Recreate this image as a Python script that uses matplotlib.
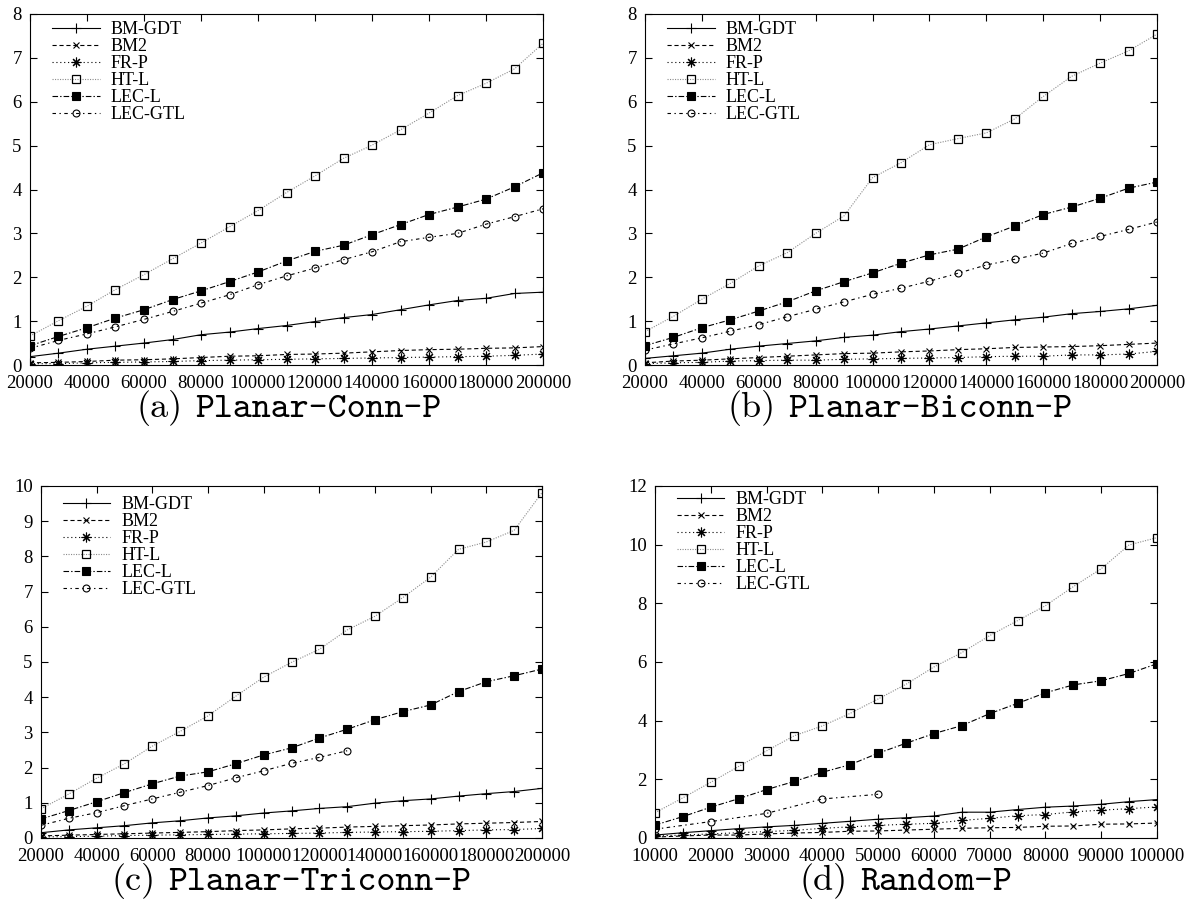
import os
import matplotlib
matplotlib.use("Agg")
import matplotlib.pyplot as plt
from matplotlib.font_manager import FontProperties
from matplotlib.offsetbox import TextArea, HPacker, AnnotationBbox

plt.rcParams['font.family'] = ['Liberation Serif', 'DejaVu Serif']
plt.rcParams['lines.scale_dashes'] = False

# ---- data (running time, seconds) ----
x_planar = [20000, 30000, 40000, 50000, 60000, 70000, 80000, 90000, 100000, 110000,
            120000, 130000, 140000, 150000, 160000, 170000, 180000, 190000, 200000]
x_random = [10000, 15000, 20000, 25000, 30000, 35000, 40000, 45000, 50000, 55000,
            60000, 65000, 70000, 75000, 80000, 85000, 90000, 95000, 100000]
x_gtl_c = [20000, 30000, 40000, 50000, 60000, 70000, 80000, 90000, 100000, 110000,
           120000, 130000]
x_gtl_d = [10000, 20000, 30000, 40000, 50000]

methods = ['BM-GDT', 'BM2', 'FR-P', 'HT-L', 'LEC-L', 'LEC-GTL']

conn_bmgdt = [0.19, 0.27, 0.36, 0.43, 0.50, 0.58, 0.69, 0.75, 0.83, 0.90, 0.99, 1.08, 1.15, 1.26, 1.37, 1.47, 1.52, 1.63, 1.66]
conn_bm2 = [0.05, 0.06, 0.08, 0.11, 0.12, 0.14, 0.17, 0.20, 0.21, 0.24, 0.25, 0.27, 0.30, 0.33, 0.35, 0.36, 0.38, 0.39, 0.42]
conn_frp = [0.03, 0.03, 0.05, 0.06, 0.07, 0.08, 0.10, 0.11, 0.12, 0.13, 0.14, 0.15, 0.16, 0.17, 0.18, 0.19, 0.20, 0.22, 0.25]
conn_htl = [0.66, 1.01, 1.34, 1.72, 2.06, 2.42, 2.78, 3.15, 3.52, 3.93, 4.31, 4.71, 5.01, 5.36, 5.74, 6.14, 6.42, 6.75, 7.33]
conn_lecl = [0.44, 0.65, 0.85, 1.07, 1.26, 1.49, 1.69, 1.90, 2.12, 2.37, 2.59, 2.73, 2.97, 3.20, 3.43, 3.60, 3.78, 4.06, 4.38]
conn_gtl = [0.38, 0.56, 0.71, 0.87, 1.04, 1.22, 1.41, 1.60, 1.83, 2.03, 2.21, 2.40, 2.58, 2.81, 2.91, 3.00, 3.21, 3.38, 3.56]

bic_bmgdt = [0.15, 0.21, 0.27, 0.36, 0.43, 0.49, 0.55, 0.63, 0.68, 0.76, 0.82, 0.89, 0.96, 1.03, 1.09, 1.17, 1.22, 1.28, 1.36]
bic_bm2 = [0.05, 0.09, 0.11, 0.14, 0.17, 0.20, 0.23, 0.26, 0.27, 0.30, 0.32, 0.35, 0.37, 0.40, 0.41, 0.42, 0.44, 0.47, 0.50]
bic_frp = [0.03, 0.05, 0.06, 0.09, 0.10, 0.11, 0.11, 0.13, 0.14, 0.15, 0.16, 0.17, 0.19, 0.20, 0.20, 0.23, 0.23, 0.25, 0.31]
bic_htl = [0.76, 1.11, 1.50, 1.86, 2.26, 2.56, 3.00, 3.40, 4.27, 4.61, 5.02, 5.16, 5.29, 5.61, 6.12, 6.58, 6.88, 7.16, 7.54]
bic_lecl = [0.44, 0.63, 0.85, 1.03, 1.23, 1.44, 1.69, 1.90, 2.10, 2.32, 2.51, 2.64, 2.92, 3.17, 3.43, 3.60, 3.80, 4.03, 4.17]
bic_gtl = [0.34, 0.48, 0.62, 0.77, 0.92, 1.10, 1.27, 1.44, 1.61, 1.75, 1.91, 2.09, 2.28, 2.41, 2.55, 2.77, 2.93, 3.09, 3.26]

tri_bmgdt = [0.15, 0.23, 0.29, 0.35, 0.43, 0.49, 0.57, 0.63, 0.71, 0.77, 0.84, 0.89, 0.99, 1.06, 1.11, 1.19, 1.26, 1.32, 1.41]
tri_bm2 = [0.06, 0.08, 0.10, 0.12, 0.14, 0.16, 0.18, 0.21, 0.23, 0.26, 0.28, 0.31, 0.33, 0.35, 0.37, 0.40, 0.42, 0.44, 0.47]
tri_frp = [0.03, 0.04, 0.05, 0.07, 0.08, 0.09, 0.10, 0.11, 0.12, 0.13, 0.14, 0.16, 0.17, 0.18, 0.19, 0.21, 0.23, 0.24, 0.27]
tri_htl = [0.83, 1.25, 1.70, 2.11, 2.61, 3.03, 3.47, 4.03, 4.57, 4.99, 5.36, 5.91, 6.30, 6.83, 7.41, 8.20, 8.41, 8.74, 9.81]
tri_lecl = [0.54, 0.78, 1.03, 1.29, 1.54, 1.76, 1.88, 2.11, 2.36, 2.56, 2.84, 3.09, 3.36, 3.59, 3.78, 4.16, 4.44, 4.61, 4.80]
tri_gtl = [0.36, 0.56, 0.72, 0.92, 1.11, 1.30, 1.49, 1.71, 1.91, 2.12, 2.29, 2.48]

rnd_bmgdt = [0.10, 0.18, 0.25, 0.32, 0.38, 0.43, 0.50, 0.57, 0.64, 0.69, 0.75, 0.88, 0.88, 0.97, 1.05, 1.09, 1.15, 1.24, 1.31]
rnd_bm2 = [0.03, 0.07, 0.10, 0.10, 0.14, 0.17, 0.19, 0.23, 0.24, 0.27, 0.30, 0.33, 0.35, 0.36, 0.40, 0.41, 0.47, 0.48, 0.51]
rnd_frp = [0.07, 0.10, 0.14, 0.18, 0.22, 0.26, 0.33, 0.38, 0.43, 0.47, 0.50, 0.60, 0.67, 0.76, 0.80, 0.89, 0.95, 1.00, 1.06]
rnd_htl = [0.86, 1.37, 1.90, 2.44, 2.97, 3.49, 3.82, 4.25, 4.74, 5.24, 5.83, 6.32, 6.90, 7.41, 7.92, 8.57, 9.18, 9.99, 10.24]
rnd_lecl = [0.44, 0.73, 1.05, 1.34, 1.65, 1.93, 2.24, 2.50, 2.89, 3.23, 3.56, 3.83, 4.24, 4.59, 4.95, 5.22, 5.36, 5.61, 5.94]
rnd_gtl = [0.30, 0.56, 0.84, 1.33, 1.49]

captions = [('(a)', 'Planar-Conn-P'), ('(b)', 'Planar-Biconn-P'),
            ('(c)', 'Planar-Triconn-P'), ('(d)', 'Random-P')]

# ---- gnuplot-like line styles ----
styles = {
    'BM-GDT': dict(color='black', ls='-', marker='+', ms=7, mew=0.8),
    'BM2': dict(color='black', ls=(0, (3, 2)), marker='x', ms=5, mew=0.8),
    'FR-P': dict(color='black', ls=(0, (0.8, 2)), marker=(8, 2, 0), ms=7, mew=0.8),
    'HT-L': dict(color='#8c8c8c', ls=(0, (0.8, 1.0)), marker='s', ms=5.5, mew=0.9,
                 mec='black', mfc='none'),
    'LEC-L': dict(color='black', ls=(0, (4, 1.5, 1, 1.5)), marker='s', ms=6, mew=0.8,
                  mfc='black'),
    'LEC-GTL': dict(color='black', ls=(0, (2.5, 2.5, 1, 2.5)), marker='o', ms=5, mew=0.8,
                    mfc='none'),
}

font_dir = os.path.join(matplotlib.get_data_path(), 'fonts', 'ttf')
cmr = FontProperties(fname=os.path.join(font_dir, 'cmr10.ttf'), size=26)
cmtt = FontProperties(fname=os.path.join(font_dir, 'cmtt10.ttf'), size=26)

W, H = 1193, 911
fig = plt.figure(figsize=(W / 100, H / 100), dpi=100)


def add_axes_px(left, right, top, bottom):
    return fig.add_axes([left / W, 1 - bottom / H, (right - left) / W, (bottom - top) / H])


def draw_panel(ax, series, xlim, ylim, xticks, yticks, leg_y):
    for name, (xv, yv) in zip(methods, series):
        ax.plot(xv, yv, lw=0.8, label=name, **styles[name])
    ax.set_xlim(*xlim)
    ax.set_ylim(*ylim)
    ax.set_xticks(xticks)
    ax.set_yticks(yticks)
    ax.tick_params(direction='in', top=True, right=True, length=5, width=0.8,
                   labelsize=13.5, colors='black')
    ax.tick_params(axis='y', pad=6)
    ax.tick_params(axis='x', pad=7)
    for s in ax.spines.values():
        s.set_linewidth(0.8)
    ax.legend(loc='upper left', bbox_to_anchor=(0.043, leg_y), frameon=False,
              fontsize=13, handlelength=2.65, handletextpad=0.6, labelspacing=0.0,
              borderpad=0, borderaxespad=0, numpoints=1)


def caption(text_a, text_b, xc, yc):
    box = HPacker(children=[TextArea(text_a, textprops=dict(fontproperties=cmr)),
                            TextArea(text_b, textprops=dict(fontproperties=cmtt))],
                  pad=0, sep=9, align='baseline')
    ab = AnnotationBbox(box, (xc / W, 1 - yc / H), xycoords='figure fraction',
                        frameon=False, box_alignment=(0.5, 0.5))
    fig.add_artist(ab)


ax_a = add_axes_px(30, 543, 14, 365)
ax_b = add_axes_px(645, 1157, 14, 365)
ax_c = add_axes_px(41, 542, 486, 838)
ax_d = add_axes_px(655, 1157, 486, 838)

planar_ticks = [20000, 40000, 60000, 80000, 100000, 120000, 140000, 160000, 180000, 200000]
random_ticks = [10000, 20000, 30000, 40000, 50000, 60000, 70000, 80000, 90000, 100000]

draw_panel(ax_a,
           [(x_planar, conn_bmgdt), (x_planar, conn_bm2), (x_planar, conn_frp),
            (x_planar, conn_htl), (x_planar, conn_lecl), (x_planar, conn_gtl)],
           (20000, 200000), (0, 8), planar_ticks, range(0, 9), 0.979)
draw_panel(ax_b,
           [(x_planar, bic_bmgdt), (x_planar, bic_bm2), (x_planar, bic_frp),
            (x_planar, bic_htl), (x_planar, bic_lecl), (x_planar, bic_gtl)],
           (20000, 200000), (0, 8), planar_ticks, range(0, 9), 0.979)
draw_panel(ax_c,
           [(x_planar, tri_bmgdt), (x_planar, tri_bm2), (x_planar, tri_frp),
            (x_planar, tri_htl), (x_planar, tri_lecl), (x_gtl_c, tri_gtl)],
           (20000, 200000), (0, 10), planar_ticks, range(0, 11), 0.972)
draw_panel(ax_d,
           [(x_random, rnd_bmgdt), (x_random, rnd_bm2), (x_random, rnd_frp),
            (x_random, rnd_htl), (x_random, rnd_lecl), (x_gtl_d, rnd_gtl)],
           (10000, 100000), (0, 12), random_ticks, range(0, 13, 2), 0.985)

caption(*captions[0], 289, 408)
caption(*captions[1], 900, 408)
caption(*captions[2], 291, 881)
caption(*captions[3], 906, 881)

fig.savefig('out.png', dpi=100)
